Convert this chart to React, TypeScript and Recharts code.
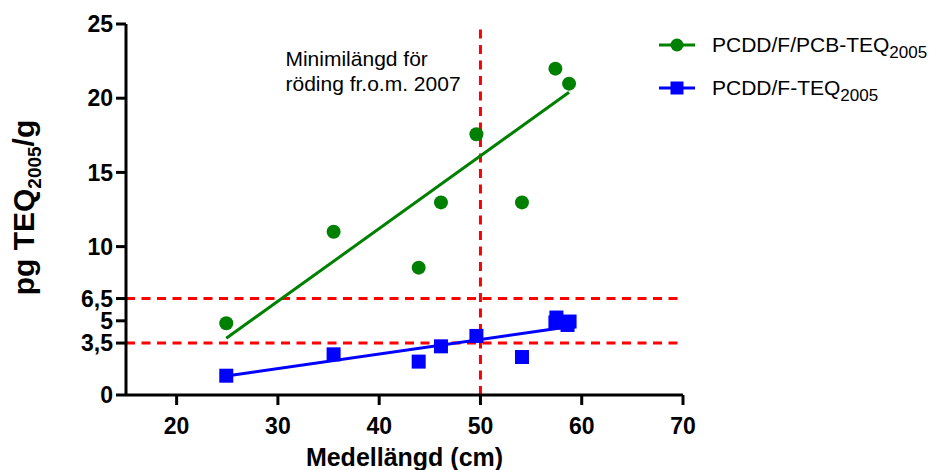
import React from "react";
import {
  Label,
  Legend,
  ReferenceLine,
  Scatter,
  ScatterChart,
  XAxis,
  YAxis,
} from "recharts";

// Medellängd (cm) and TEQ (pg/g) per sample
const lengthsPcb = [24.9, 35.5, 43.9, 46.1, 49.6, 54.1, 57.4, 58.75];
const teqPcb = [4.83, 11.0, 8.58, 12.98, 17.57, 12.98, 21.99, 20.98];
const lengthsF = [24.9, 35.5, 43.9, 46.1, 49.6, 54.1, 57.5, 57.4, 58.8, 58.6];
const teqF = [1.3, 2.74, 2.25, 3.28, 3.98, 2.56, 5.22, 4.89, 4.95, 4.72];

// end points of the regression lines in the original
const fitLengths = [24.9, 58.75];
const fitPcb = [3.82, 20.4];
const fitF = [1.28, 4.6];

const xTicks = [20, 30, 40, 50, 60, 70];
const yTicks = [0, 3.5, 5, 6.5, 10, 15, 20, 25];
const limitLevels = [3.5, 6.5];
const minLength = 50;

const legendItems = [
  { label: "PCDD/F/PCB-TEQ", sub: "2005", marker: "circle" },
  { label: "PCDD/F-TEQ", sub: "2005", marker: "square" },
];

const GREEN = "#008000";
const BLUE = "#0000FF";
const RED = "#FF0000";
const FONT = "'Liberation Sans', Arial, Helvetica, sans-serif";

const toPoints = (xs: number[], ys: number[]) =>
  xs.map((x, i) => ({ x, y: ys[i] }));

function GreenDot(props: { cx?: number; cy?: number }) {
  const { cx, cy } = props;
  if (cx == null || cy == null) return <g />;
  return <circle cx={cx} cy={cy} r={7} fill={GREEN} />;
}

function BlueSquare(props: { cx?: number; cy?: number }) {
  const { cx, cy } = props;
  if (cx == null || cy == null) return <g />;
  return <rect x={cx - 7} y={cy - 7} width={14} height={14} fill={BLUE} />;
}

const NoMark = () => <g />;

// rotated y title with the subscripted year
function YTitle(props: { viewBox?: { x: number; y: number; width: number; height: number } }) {
  const vb = props.viewBox ?? { x: 0, y: 24, width: 126, height: 371 };
  const cx = vb.x + 34;
  const cy = vb.y + vb.height / 2 - 2;
  return (
    <text
      transform={`rotate(-90, ${cx}, ${cy})`}
      x={cx}
      y={cy}
      textAnchor="middle"
      fontFamily={FONT}
      fontWeight="bold"
      fontSize={30}
      fill="#000"
    >
      pg TEQ
      <tspan fontSize={19} dy={7}>
        2005
      </tspan>
      <tspan dy={-7}>/g</tspan>
    </text>
  );
}

function MinLengthNote(props: { viewBox?: { x: number; y: number } }) {
  const vb = props.viewBox ?? { x: 481, y: 24 };
  const x = vb.x - 195;
  const y = vb.y + 42;
  return (
    <text x={x} y={y} fontFamily={FONT} fontSize={21} fill="#000">
      <tspan x={x}>Minimilängd för</tspan>
      <tspan x={x} dy={25}>
        röding fr.o.m. 2007
      </tspan>
    </text>
  );
}

function LegendBox() {
  return (
    <div style={{ fontFamily: FONT, fontSize: 21, color: "#000" }}>
      {legendItems.map((item) => {
        const color = item.marker === "circle" ? GREEN : BLUE;
        return (
          <div
            key={item.label}
            style={{ display: "flex", alignItems: "center", height: 43 }}
          >
            <svg width={36} height={16} style={{ flex: "none" }}>
              <line x1={0} x2={36} y1={8} y2={8} stroke={color} strokeWidth={3} />
              {item.marker === "circle" ? (
                <circle cx={18} cy={8} r={6.5} fill={color} />
              ) : (
                <rect x={11.5} y={1.5} width={13} height={13} fill={color} />
              )}
            </svg>
            <span style={{ marginLeft: 17, whiteSpace: "nowrap" }}>
              {item.label}
              <span style={{ fontSize: 17, position: "relative", top: 6 }}>
                {item.sub}
              </span>
            </span>
          </div>
        );
      })}
    </div>
  );
}

export default function App() {
  const pcb = toPoints(lengthsPcb, teqPcb);
  const f = toPoints(lengthsF, teqF);
  const pcbFit = toPoints(fitLengths, fitPcb);
  const fFit = toPoints(fitLengths, fitF);

  const tickStyle = {
    fill: "#000",
    fontSize: 23,
    fontWeight: "bold",
    fontFamily: FONT,
  };
  const axisStroke = { stroke: "#000", strokeWidth: 3 };

  return (
    <div style={{ position: "absolute", left: 0, top: 0, background: "#fff" }}>
      <ScatterChart
        width={936}
        height={470}
        margin={{ top: 24, right: 253, bottom: 0, left: 0 }}
      >
        <XAxis
          type="number"
          dataKey="x"
          domain={[15, 70]}
          ticks={xTicks}
          interval={0}
          allowDataOverflow
          height={75}
          tickSize={10}
          tickMargin={13}
          axisLine={axisStroke}
          tickLine={axisStroke}
          tick={tickStyle}
        >
          <Label
            value="Medellängd (cm)"
            position="insideBottom"
            offset={4}
            fill="#000"
            fontSize={25}
            fontWeight="bold"
            fontFamily={FONT}
          />
        </XAxis>
        <YAxis
          type="number"
          dataKey="y"
          domain={[0, 25]}
          ticks={yTicks}
          interval={0}
          allowDataOverflow
          width={126}
          tickSize={10}
          tickMargin={3}
          axisLine={axisStroke}
          tickLine={axisStroke}
          tick={tickStyle}
          tickFormatter={(v: number) => String(v).replace(".", ",")}
        >
          <Label content={<YTitle />} />
        </YAxis>

        {limitLevels.map((lvl) => (
          <ReferenceLine
            key={lvl}
            y={lvl}
            stroke={RED}
            strokeWidth={3}
            strokeDasharray="9 6.5"
          />
        ))}
        <ReferenceLine
          x={minLength}
          stroke={RED}
          strokeWidth={3}
          strokeDasharray="9 6.5"
          label={<MinLengthNote />}
        />

        <Scatter
          data={pcbFit}
          line={{ stroke: GREEN, strokeWidth: 3 }}
          shape={NoMark}
          legendType="none"
          isAnimationActive={false}
        />
        <Scatter
          data={fFit}
          line={{ stroke: BLUE, strokeWidth: 3 }}
          shape={NoMark}
          legendType="none"
          isAnimationActive={false}
        />
        <Scatter
          name="PCDD/F/PCB-TEQ2005"
          data={pcb}
          shape={GreenDot}
          fill={GREEN}
          isAnimationActive={false}
        />
        <Scatter
          name="PCDD/F-TEQ2005"
          data={f}
          shape={BlueSquare}
          fill={BLUE}
          isAnimationActive={false}
        />

        <Legend
          layout="vertical"
          align="center"
          verticalAlign="middle"
          content={<LegendBox />}
          wrapperStyle={{ left: 659, top: 23, width: 277 }}
        />
      </ScatterChart>
    </div>
  );
}
